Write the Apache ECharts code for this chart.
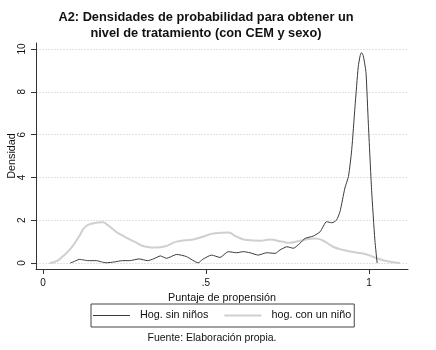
<!DOCTYPE html>
<html>
<head>
<meta charset="utf-8">
<script src="https://cdn.jsdelivr.net/npm/echarts@6/dist/echarts.min.js"></script>
<style>
  html, body { margin: 0; padding: 0; background: #fff; }
  #chart { width: 436px; height: 350px; }
</style>
</head>
<body>
<div id="chart"></div>
<script>
// densidad estimada, hogares sin niños
const sinNinosX = [0.084, 0.10, 0.111, 0.125, 0.137, 0.163, 0.18, 0.193, 0.219, 0.244, 0.265, 0.295, 0.321, 0.34, 0.36, 0.379, 0.41, 0.44, 0.476, 0.49, 0.517, 0.543, 0.568, 0.594, 0.614, 0.635, 0.66, 0.686, 0.712, 0.727, 0.737, 0.748, 0.768, 0.788, 0.804, 0.829, 0.85, 0.87, 0.886, 0.9, 0.911, 0.926, 0.937, 0.947, 0.957, 0.967, 0.973, 0.977, 0.982, 0.987, 0.991, 0.998, 1.008, 1.018, 1.025];
const sinNinosY = [0, 0.10, 0.17, 0.14, 0.11, 0.11, 0.05, 0.01, 0.05, 0.11, 0.11, 0.19, 0.11, 0.2, 0.33, 0.22, 0.4, 0.3, 0.01, 0.17, 0.37, 0.26, 0.53, 0.48, 0.53, 0.48, 0.37, 0.48, 0.45, 0.61, 0.69, 0.76, 0.69, 0.92, 1.15, 1.26, 1.46, 1.93, 1.88, 2.0, 2.4, 3.5, 4.05, 5.3, 7.3, 9.17, 9.7, 9.83, 9.7, 9.3, 8.86, 6.5, 3.4, 1.07, 0];

// densidad estimada, hogares con un niño
const conNinoX = [0.02, 0.04, 0.06, 0.086, 0.11, 0.13, 0.152, 0.183, 0.198, 0.224, 0.25, 0.28, 0.316, 0.347, 0.377, 0.41, 0.461, 0.49, 0.528, 0.568, 0.594, 0.625, 0.666, 0.696, 0.732, 0.758, 0.788, 0.834, 0.86, 0.89, 0.921, 0.952, 0.993, 1.024, 1.064, 1.095];
const conNinoY = [0, 0.08, 0.3, 0.69, 1.23, 1.7, 1.85, 1.9, 1.78, 1.46, 1.23, 1.0, 0.76, 0.72, 0.79, 1.0, 1.1, 1.23, 1.39, 1.42, 1.23, 1.07, 1.04, 1.1, 1.0, 0.95, 1.04, 1.15, 1.04, 0.76, 0.61, 0.51, 0.4, 0.22, 0.06, 0];

const xTicks = [0, 0.5, 1];
const yTicks = [0, 2, 4, 6, 8, 10];
const seriesNames = ["Hog. sin niños", "hog. con un niño"];

const zip = (xs, ys) => xs.map((x, i) => [x, ys[i]]);

// muestra de línea para la leyenda, con hueco a la derecha antes del texto
const iconBlack = "path://M0 1.5H37V2.5H0Z M42 0 M42 4 M0 0 M0 4";
const iconGray = "path://M0 1H37V3H0Z M42 0 M42 4 M0 0 M0 4";

const chart = echarts.init(document.getElementById("chart"));
chart.setOption({
  animation: false,
  graphic: [
    {
      type: "text",
      x: 206,
      y: 9,
      style: {
        text: "A2: Densidades de probabilidad para obtener un\nnivel de tratamiento (con CEM y sexo)",
        textAlign: "center",
        font: "bold 12.8px 'Liberation Sans'",
        lineHeight: 16,
        fill: "#111"
      }
    },
    {
      type: "text",
      x: 212,
      y: 333,
      style: {
        text: "Fuente: Elaboración propia.",
        textAlign: "center",
        font: "10.5px 'Liberation Sans'",
        fill: "#111"
      }
    }
  ],
  grid: {
    left: 36,
    right: 28,
    top: 43,
    bottom: 81,
    outerBoundsMode: "none"
  },
  legend: {
    left: 91,
    top: 304,
    padding: [6, 3, 6, 2],
    itemGap: 16,
    itemWidth: 42,
    itemHeight: 4,
    borderColor: "#444",
    borderWidth: 1,
    data: [
      { name: seriesNames[0], icon: iconBlack, itemStyle: { color: "#3a3a3a" } },
      { name: seriesNames[1], icon: iconGray, itemStyle: { color: "#cfcfcf" } }
    ],
    textStyle: {
      fontFamily: "Liberation Sans",
      fontSize: 10.8,
      color: "#111"
    }
  },
  xAxis: {
    type: "value",
    min: -0.0215,
    max: 1.1196,
    name: "Puntaje de propensión",
    nameLocation: "middle",
    nameGap: 18,
    nameTextStyle: {
      fontFamily: "Liberation Sans",
      fontSize: 10.8,
      color: "#111"
    },
    axisLine: { show: true, onZero: false, lineStyle: { color: "#333", width: 1 } },
    axisTick: { show: true, length: 5, customValues: xTicks, lineStyle: { color: "#333" } },
    axisLabel: {
      customValues: xTicks,
      margin: 9,
      fontFamily: "Liberation Sans",
      fontSize: 10,
      color: "#111",
      formatter: function (v) {
        if (v === 0.5) return ".5";
        return String(v);
      }
    },
    splitLine: { show: false }
  },
  yAxis: {
    type: "value",
    min: -0.28,
    max: 10.28,
    name: "Densidad",
    nameLocation: "middle",
    nameGap: 18,
    nameMoveOverlap: false,
    nameTextStyle: {
      fontFamily: "Liberation Sans",
      fontSize: 10.8,
      color: "#111"
    },
    axisLine: { show: true, onZero: false, lineStyle: { color: "#333", width: 1 } },
    axisTick: { show: true, length: 5, customValues: yTicks, lineStyle: { color: "#333" } },
    axisLabel: {
      customValues: yTicks,
      rotate: 90,
      margin: 9,
      fontFamily: "Liberation Sans",
      fontSize: 10,
      color: "#111"
    },
    splitLine: {
      show: true,
      lineStyle: { color: "#e2e2e2", width: 1, type: [2, 1] }
    }
  },
  series: [
    {
      name: seriesNames[0],
      type: "line",
      symbol: "none",
      smooth: 0.2,
      lineStyle: { color: "#3a3a3a", width: 1 },
      itemStyle: { color: "#3a3a3a" },
      z: 3,
      data: zip(sinNinosX, sinNinosY)
    },
    {
      name: seriesNames[1],
      type: "line",
      symbol: "none",
      smooth: true,
      lineStyle: { color: "#cfcfcf", width: 2 },
      itemStyle: { color: "#cfcfcf" },
      z: 2,
      data: zip(conNinoX, conNinoY)
    }
  ]
});
</script>
</body>
</html>
